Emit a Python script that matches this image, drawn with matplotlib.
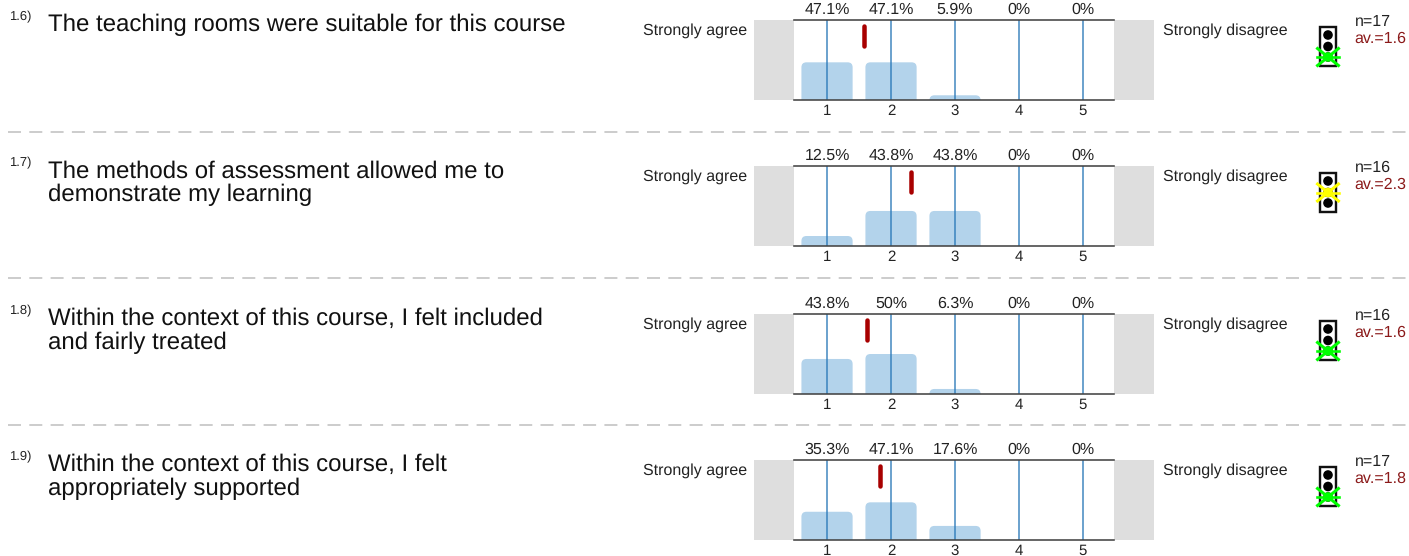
import matplotlib
matplotlib.use('Agg')
import matplotlib.pyplot as plt
from matplotlib.patches import FancyBboxPatch, Rectangle, Circle

plt.rcParams['font.family'] = ['Liberation Sans', 'DejaVu Sans']
plt.rcParams['text.hinting'] = 'no_hinting'
plt.rcParams['text.hinting_factor'] = 1

W, H = 1409, 556

# survey data
numbers = ['1.6)', '1.7)', '1.8)', '1.9)']
questions = ['The teaching rooms were suitable for this course',
             'The methods of assessment allowed me to\ndemonstrate my learning',
             'Within the context of this course, I felt included\nand fairly treated',
             'Within the context of this course, I felt\nappropriately supported']
scale = [1, 2, 3, 4, 5]
percents = [[47.1, 47.1, 5.9, 0, 0],
            [12.5, 43.8, 43.8, 0, 0],
            [43.8, 50, 6.3, 0, 0],
            [35.3, 47.1, 17.6, 0, 0]]
answers = [17, 16, 16, 17]
means = [1.6, 2.3, 1.6, 1.8]
mean_marks = [1.58, 2.31, 1.63, 1.83]
lights = [2, 1, 2, 2]  # which lamp is crossed: 0 top, 1 middle, 2 bottom
light_colors = ['red', '#ffff00', '#00ff00']

# layout in pixels
panel_tops = [20, 166, 314, 460]
panel_height = 80
separators = [132, 278, 425]

px = 0.72  # points per pixel at dpi 100

fig = plt.figure(figsize=(W / 100, H / 100), dpi=100)

# overlay for the text, separators and traffic lights, in pixel coordinates
over = fig.add_axes([0, 0, 1, 1], zorder=1)
over.set_xlim(0, W)
over.set_ylim(H, 0)
over.axis('off')

for y in separators:
    over.plot([8, W], [y, y], color='#bdbdbd', lw=1.5 * px, dashes=(13 / 1.5, 8.3 / 1.5))


def percent_label(v):
    return f'{v:g}%'


for i, top in enumerate(panel_tops):
    # grey end boxes
    over.add_patch(Rectangle((754, top), 40, panel_height, fc='#dedede', ec='none'))
    over.add_patch(Rectangle((1114, top), 40, panel_height, fc='#dedede', ec='none'))

    ax = fig.add_axes([794 / W, 1 - (top + panel_height) / H, 320 / W, panel_height / H], zorder=2)
    ax.patch.set_alpha(0)
    ax.set_xlim(0.484, 5.484)
    ax.set_ylim(0, 100)
    unit_ratio = (100 / panel_height) / (5 / 320)

    for x, v in zip(scale, percents[i]):
        if v > 0:
            # starts below the axis so only the upper corners look rounded
            bar = FancyBboxPatch((x - 0.4, -15), 0.8, v + 15,
                                 boxstyle=f'round,pad=0,rounding_size={5 / 64}',
                                 mutation_aspect=unit_ratio, fc='#b3d3eb', ec='none')
            ax.add_patch(bar)
        ax.axvline(x, color='#2a78b8', lw=1.6 * px, alpha=0.85)

    ax.plot([mean_marks[i], mean_marks[i]], [67, 93], color='#a80000', lw=4.5 * px,
            solid_capstyle='round')

    ax.set_xticks(scale)
    ax.tick_params(axis='x', length=0, pad=3.2, labelsize=10.8, labelcolor='#222222')
    ax.set_yticks([])
    for side in ['left', 'right']:
        ax.spines[side].set_visible(False)
    for side in ['top', 'bottom']:
        ax.spines[side].set_color('#444444')
        ax.spines[side].set_linewidth(1.6 * px)

    sec = ax.secondary_xaxis('top')
    sec.set_xticks(scale)
    sec.set_xticklabels([percent_label(v) for v in percents[i]])
    sec.tick_params(axis='x', length=0, pad=1.8, labelsize=11.4, labelcolor='#222222')
    sec.spines['top'].set_visible(False)

    # question text
    over.text(9, top - 3, numbers[i], fontsize=9.6, va='center', ha='left', color='#222222')
    over.text(48, top - 6, questions[i], fontsize=17.3, va='top', ha='left', color='#111111',
              linespacing=1.08)

    over.text(747, top + 11, 'Strongly agree', fontsize=11.65, va='center', ha='right', color='#222222')
    over.text(1163, top + 11, 'Strongly disagree', fontsize=11.65, va='center', ha='left', color='#222222')

    over.text(1354.5, top + 1.5, f'n={answers[i]}', fontsize=11.7, va='center', ha='left', color='#222222')
    over.text(1354.5, top + 18.5, f'av.={means[i]}', fontsize=11.7, va='center', ha='left', color='#8b1a1a')

    # traffic light
    lx, ly = 1328, top + 7
    over.add_patch(Rectangle((lx - 8, ly), 16, 39, fc='white', ec='#111111', lw=2.4 * px))
    lamp_offsets = [8, 19.5, 30]
    for off in lamp_offsets:
        over.add_patch(Circle((lx, ly + off), 4.8, fc='black', ec='none'))
    c = light_colors[lights[i]]
    cy = ly + lamp_offsets[lights[i]]
    over.plot([lx - 10.5, lx + 10.5], [cy - 8.5, cy + 8.5], color=c, lw=3 * px)
    over.plot([lx - 10.5, lx + 10.5], [cy + 8.5, cy - 8.5], color=c, lw=3 * px)
    over.plot([lx - 11, lx + 11], [cy, cy], color=c, lw=2.6 * px)
    over.add_patch(Circle((lx, cy), 4.8, fc=c, ec='none', zorder=4))

fig.savefig('out.png', dpi=100)
